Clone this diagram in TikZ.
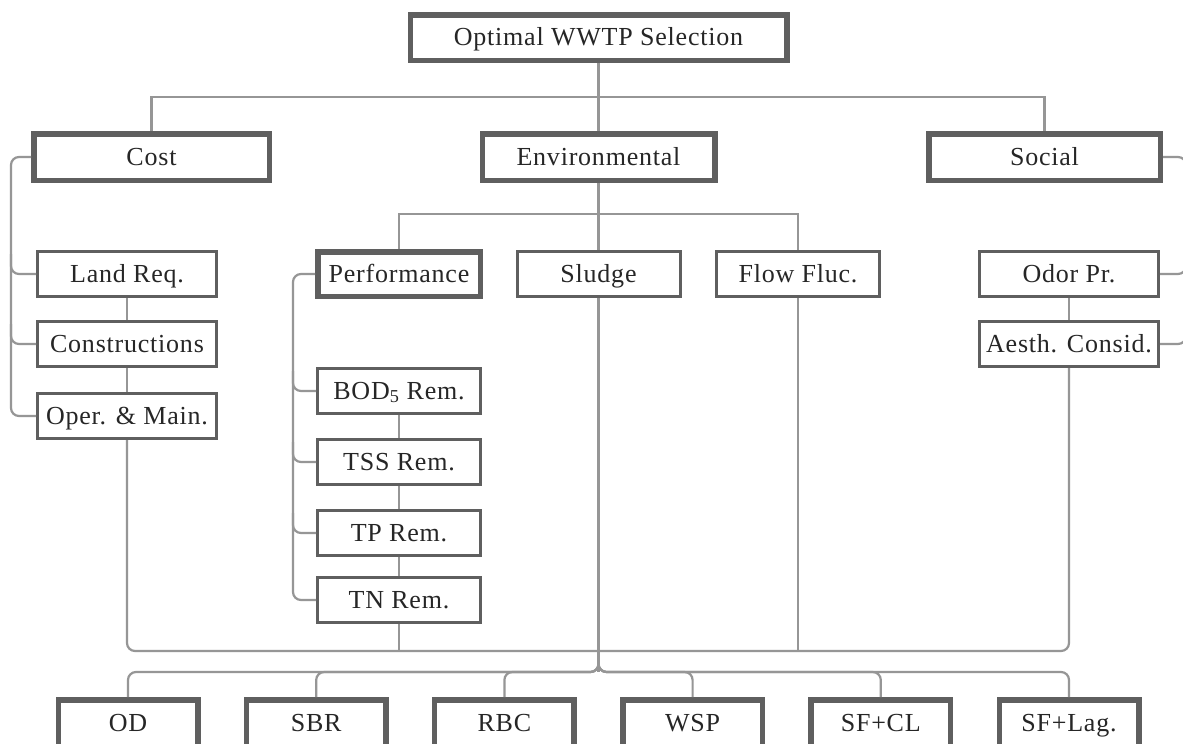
\documentclass[tikz,border=0pt]{standalone}
\usepackage{fontspec}
\setmainfont{Liberation Serif}[LetterSpace=3]
\definecolor{boxc}{RGB}{95,95,95}
\definecolor{connc}{RGB}{150,150,150}
\tikzset{
  base/.style={draw=boxc, fill=white, inner sep=0pt, align=center, text=black!85,
    text height=20pt, text depth=3.5pt,
    font=\fontsize{26}{30}\selectfont},
  thickbox/.style={base, line width=5.5pt},
  thinbox/.style={base, line width=3pt},
  conn/.style={draw=connc, line width=2.2pt},
  rconn/.style={conn, rounded corners=8pt},
}
\begin{document}
\begin{tikzpicture}[x=1pt,y=-1pt]
\useasboundingbox (0,0) rectangle (1183,744);
\fill[white] (0,0) rectangle (1183,744);
\clip (0,0) rectangle (1183,744);
% level 0 and 1
\node[thickbox, minimum width=376.5pt, minimum height=45.5pt] (top) at (598.5,37.5) {Optimal WWTP Selection};
\node[thickbox, minimum width=235.5pt, minimum height=46.5pt] (cost) at (151.5,157) {Cost};
\node[thickbox, minimum width=232.5pt, minimum height=46.5pt] (env) at (598.5,157) {Environmental};
\node[thickbox, minimum width=231.5pt, minimum height=46.5pt] (social) at (1044.5,157) {Social};
% cost children
\node[thinbox, minimum width=179pt, minimum height=45pt] (land) at (127,274) {Land Req.};
\node[thinbox, minimum width=179pt, minimum height=45pt] (constr) at (127,344) {Constructions};
\node[thinbox, minimum width=179pt, minimum height=45pt] (oper) at (127,416) {Oper. \& Main.};
% environmental children
\node[thickbox, minimum width=162.5pt, minimum height=44.5pt] (perf) at (399,274) {Performance};
\node[thinbox, minimum width=163pt, minimum height=45pt] (sludge) at (598.5,274) {Sludge};
\node[thinbox, minimum width=163pt, minimum height=45pt] (flow) at (798,274) {Flow Fluc.};
% social children
\node[thinbox, minimum width=179pt, minimum height=45pt] (odor) at (1069,274) {Odor Pr.};
\node[thinbox, minimum width=179pt, minimum height=45pt] (aesth) at (1069,344) {Aesth. Consid.};
% performance children
\node[thinbox, minimum width=163pt, minimum height=45pt] (bod) at (399,391) {BOD\textsubscript{5} Rem.};
\node[thinbox, minimum width=163pt, minimum height=45pt] (tss) at (399,462) {TSS Rem.};
\node[thinbox, minimum width=163pt, minimum height=45pt] (tp) at (399,533) {TP Rem.};
\node[thinbox, minimum width=163pt, minimum height=45pt] (tn) at (399,600) {TN Rem.};
% alternatives
\node[thickbox, minimum width=139.5pt, minimum height=46.5pt] (od) at (128,723) {OD};
\node[thickbox, minimum width=139.5pt, minimum height=46.5pt] (sbr) at (316.2,723) {SBR};
\node[thickbox, minimum width=139.5pt, minimum height=46.5pt] (rbc) at (504.4,723) {RBC};
\node[thickbox, minimum width=139.5pt, minimum height=46.5pt] (wsp) at (692.6,723) {WSP};
\node[thickbox, minimum width=139.5pt, minimum height=46.5pt] (sfcl) at (880.8,723) {SF+CL};
\node[thickbox, minimum width=139.5pt, minimum height=46.5pt] (sflag) at (1069,723) {SF+Lag.};
% connectors: top level
\coordinate (t1) at (598.5,97);
\draw[conn] (top.south) -- (env.north);
\draw[conn] (cost.north) |- (t1) -| (social.north);
% environmental
\coordinate (e1) at (598.5,214);
\draw[conn] (env.south) -- (sludge.north);
\draw[conn] (perf.north) |- (e1) -| (flow.north);
% cost bus
\draw[rconn] (cost.west) -- ++(-20,0) |- (oper.west);
\draw[rconn] ([shift={(-25,-20)}]land.west) |- (land.west);
\draw[rconn] ([shift={(-25,-20)}]constr.west) |- (constr.west);
\draw[conn] (land) -- (constr);
\draw[conn] (constr) -- (oper);
% performance bus
\draw[rconn] (perf.west) -- ++(-22,0) |- (tn.west);
\draw[rconn] ([shift={(-23,-20)}]bod.west) |- (bod.west);
\draw[rconn] ([shift={(-23,-20)}]tss.west) |- (tss.west);
\draw[rconn] ([shift={(-23,-20)}]tp.west) |- (tp.west);
\draw[conn] (bod) -- (tss);
\draw[conn] (tss) -- (tp);
\draw[conn] (tp) -- (tn);
% social bus
\draw[rconn] (social.east) -- ++(23,0) |- (aesth.east);
\draw[rconn] ([shift={(26,-20)}]odor.east) |- (odor.east);
\draw[conn] (odor) -- (aesth);
% lower loop
\coordinate (j1) at (598.5,651);
\coordinate (j2) at (598.5,672);
\draw[rconn] (oper.south) |- (j1);
\draw[rconn] (aesth.south) |- (j1);
\draw[conn] (tn.south) -- (tn.south |- j1);
\draw[conn] (flow.south) -- (flow.south |- j1);
\draw[conn] (sludge.south) -- (j2);
\foreach \a in {od,sbr,rbc,wsp,sfcl,sflag}{
  \draw[rconn] (598.5,655) -- (j2) -| (\a.north);
}
\end{tikzpicture}
\end{document}
